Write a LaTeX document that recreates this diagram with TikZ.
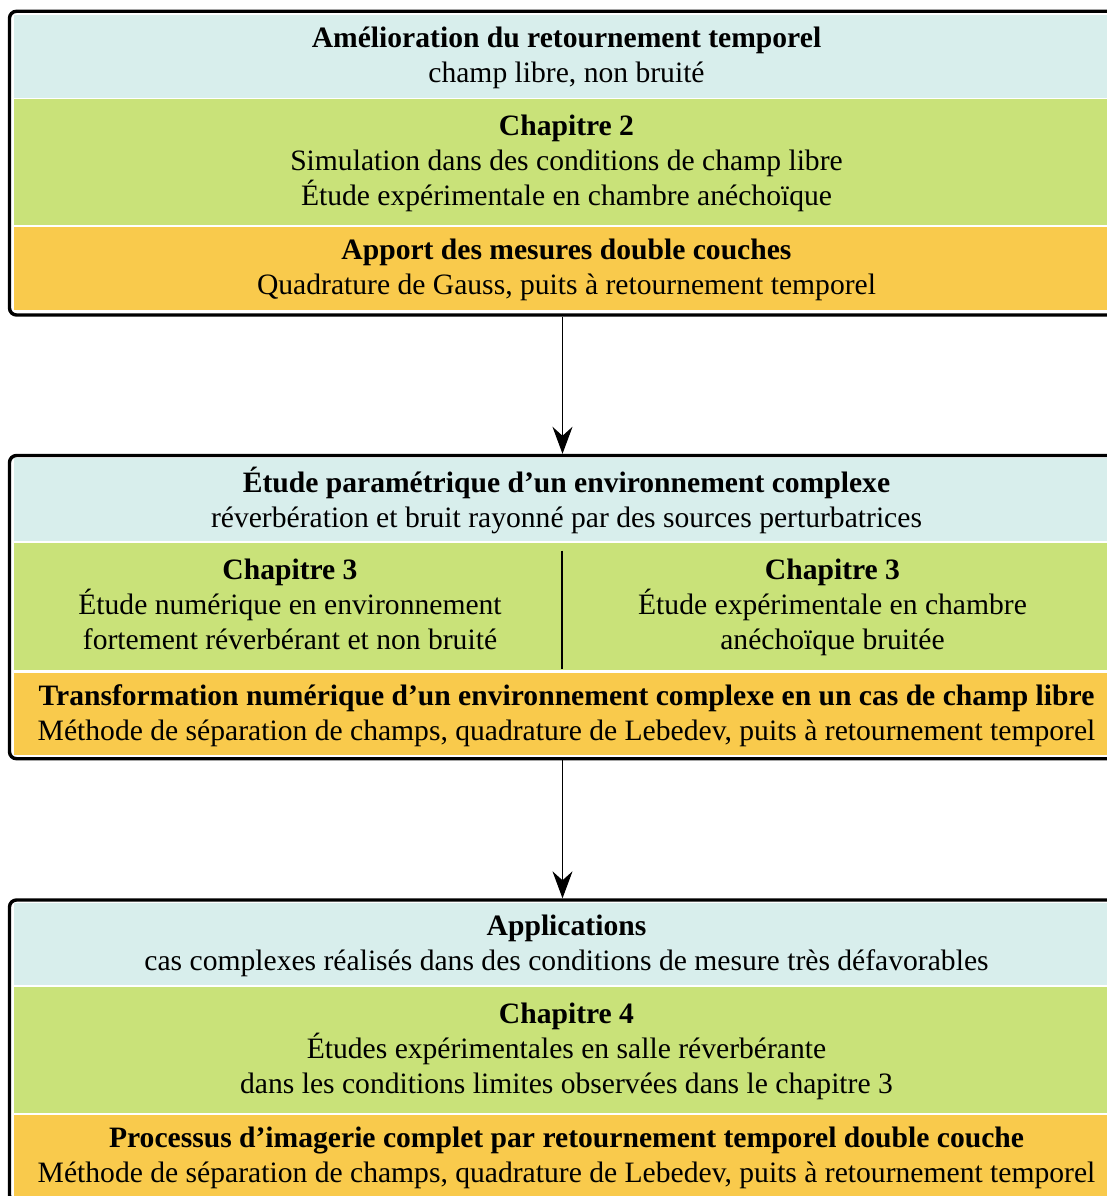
\documentclass[tikz,border=0pt]{standalone}
\usepackage{fontspec}
\setmainfont{Liberation Serif}
\usetikzlibrary{arrows.meta}
\definecolor{bandcyan}{RGB}{216,238,236}
\definecolor{bandgreen}{RGB}{201,226,121}
\definecolor{bandorange}{RGB}{249,202,76}
\tikzset{
  band/.style={fill=#1, draw=none, minimum width=1105pt, inner sep=0pt, outer sep=0pt},
  txt/.style={inner sep=0pt, align=center, font=\fontsize{29.6}{35}\selectfont,
    execute at begin node=\strut, execute at end node=\strut, yshift=-3.5pt},
  frame/.style={draw=black, line width=3.4pt, rounded corners=7pt, minimum width=1114pt, inner sep=0pt},
  flow/.style={line width=1pt, -{Stealth[length=27pt,width=20pt,inset=9pt]}},
  divider/.style={line width=2.4pt}
}
\begin{document}
\begin{tikzpicture}[x=1pt,y=-1pt]
\useasboundingbox (0,0) rectangle (1107,1196);
\clip (0,0) rectangle (1107,1196);
% ---- Box 1
\node[band=bandcyan, fill=bandcyan, minimum height=83.3pt] (c1) at (566.5,56.35) {};
\node[txt] (t1a) at (c1) {\textbf{Amélioration du retournement temporel}\\champ libre, non bruité};
\node[band, fill=bandgreen, minimum height=125.4pt] (g1) at (566.5,162.0) {};
\node[txt] (t1b) at (g1) {\textbf{Chapitre 2}\\Simulation dans des conditions de champ libre\\Étude expérimentale en chambre anéchoïque};
\node[band, fill=bandorange, minimum height=83.3pt] (o1) at (566.5,268.35) {};
\node[txt] (t1c) at (o1) {\textbf{Apport des mesures double couches}\\Quadrature de Gauss, puits à retournement temporel};
\node[frame, minimum height=303.7pt] (f1) at (566.5,163.15) {};
% ---- Box 2
\node[band, fill=bandcyan, minimum height=83.3pt] (c2) at (566.5,499.15) {};
\node[txt] (t2a) at (c2) {\textbf{Étude paramétrique d’un environnement complexe}\\réverbération et bruit rayonné par des sources perturbatrices};
\node[band, fill=bandgreen, minimum height=127.3pt] (g2) at (566.5,606.35) {};
\node[txt] (g2l) at (290,605.5)
  {\textbf{Chapitre 3}\\Étude numérique en environnement\\fortement réverbérant et non bruité};
\node[txt] (g2r) at (832.5,605.5)
  {\textbf{Chapitre 3}\\Étude expérimentale en chambre\\anéchoïque bruitée};
\coordinate (dtop) at (562,550.5);
\coordinate (dbot) at (562,669.3);
\draw[divider] (dtop) -- (dbot);
\node[band, fill=bandorange, minimum height=82.6pt] (o2) at (566.5,714.0) {};
\node[txt] (t2c) at (o2) {\textbf{Transformation numérique d’un environnement complexe en un cas de champ libre}\\Méthode de séparation de champs, quadrature de Lebedev, puits à retournement temporel};
\node[frame, minimum height=303.2pt] (f2) at (566.5,607.1) {};
% ---- Box 3
\node[band, fill=bandcyan, minimum height=82.6pt] (c3) at (566.5,944.0) {};
\node[txt] (t3a) at (c3) {\textbf{Applications}\\cas complexes réalisés dans des conditions de mesure très défavorables};
\node[band, fill=bandgreen, minimum height=125.4pt] (g3) at (566.5,1050.0) {};
\node[txt] (t3b) at (g3) {\textbf{Chapitre 4}\\Études expérimentales en salle réverbérante\\dans les conditions limites observées dans le chapitre 3};
\node[band, fill=bandorange, minimum height=83.3pt] (o3) at (566.5,1156.35) {};
\node[txt] (t3c) at (o3) {\textbf{Processus d’imagerie complet par retournement temporel double couche}\\Méthode de séparation de champs, quadrature de Lebedev, puits à retournement temporel};
\node[frame, minimum height=302pt] (f3) at (566.5,1051) {};
% ---- Arrows
\draw[flow] ([xshift=-4pt]f1.south) -- ([xshift=-4pt]f2.north);
\draw[flow] ([xshift=-4pt]f2.south) -- ([xshift=-4pt]f3.north);
\end{tikzpicture}
\end{document}
